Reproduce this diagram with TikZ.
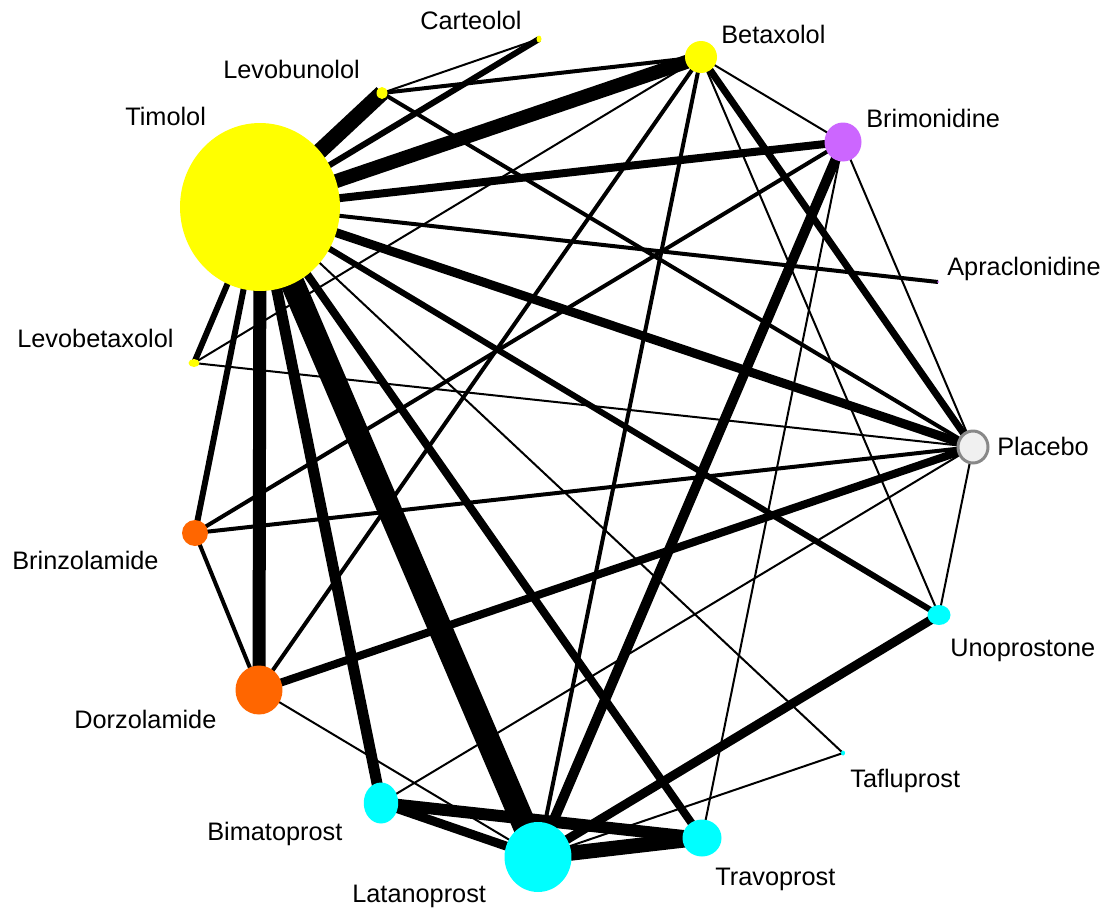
\documentclass[tikz,border=0pt]{standalone}
\usepackage{fontspec}
\setmainfont{Liberation Sans}
\usetikzlibrary{shapes.geometric,backgrounds}
\definecolor{drugYellow}{HTML}{FFFF00}
\definecolor{drugCyan}{HTML}{00FFFF}
\definecolor{drugOrange}{HTML}{FF6600}
\definecolor{drugPurple}{HTML}{CC66FF}
\definecolor{placeboFill}{HTML}{F0F0F0}
\definecolor{placeboRim}{HTML}{888888}

\begin{document}
\begin{tikzpicture}[x=0.02cm, y=-0.02cm, font=\fontsize{14.4}{17}\selectfont,
  drug/.style={ellipse, inner sep=0pt, outer sep=0pt},
  lab/.style={anchor=base west, inner sep=0pt},
  lw/.style={line width=#1*0.02cm}]
\useasboundingbox (0,0) rectangle (1110,910);
% treatments
\node[drug, fill=drugYellow, minimum width=3.2cm, minimum height=3.36cm] (Timolol) at (260,207) {};
\node[drug, fill=drugYellow, minimum width=0.1cm, minimum height=0.14cm] (Carteolol) at (539,39) {};
\node[drug, fill=drugYellow, minimum width=0.22cm, minimum height=0.24cm] (Levobunolol) at (382,93) {};
\node[drug, fill=drugYellow, minimum width=0.64cm, minimum height=0.64cm] (Betaxolol) at (701,57) {};
\node[drug, fill=drugPurple, minimum width=0.74cm, minimum height=0.78cm] (Brimonidine) at (843,142) {};
\node[drug, fill=drugPurple, minimum width=0.04cm, minimum height=0.04cm] (Apraclonidine) at (938,282) {};
\node[drug, fill=drugYellow, minimum width=0.22cm, minimum height=0.16cm] (Levobetaxolol) at (194,363) {};
\node[drug, draw=placeboRim, line width=0.06cm, fill=placeboFill, minimum width=0.6cm, minimum height=0.64cm] (Placebo) at (973,447) {};
\node[drug, fill=drugOrange, minimum width=0.52cm, minimum height=0.52cm] (Brinzolamide) at (195,533) {};
\node[drug, fill=drugCyan, minimum width=0.46cm, minimum height=0.4cm] (Unoprostone) at (939,615) {};
\node[drug, fill=drugOrange, minimum width=0.94cm, minimum height=0.98cm] (Dorzolamide) at (259,690) {};
\node[drug, fill=drugCyan, minimum width=0.08cm, minimum height=0.1cm] (Tafluprost) at (843,753) {};
\node[drug, fill=drugCyan, minimum width=0.69cm, minimum height=0.82cm] (Bimatoprost) at (381,803) {};
\node[drug, fill=drugCyan, minimum width=0.78cm, minimum height=0.74cm] (Travoprost) at (702,838) {};
\node[drug, fill=drugCyan, minimum width=1.34cm, minimum height=1.4cm] (Latanoprost) at (538,857) {};
% labels
\node[lab] (CarteololLab) at (420,29) {Carteolol};
\node[lab] (LevobunololLab) at (223,78) {Levobunolol};
\node[lab] (TimololLab) at (125,125) {Timolol};
\node[lab] (BetaxololLab) at (721,43) {Betaxolol};
\node[lab] (BrimonidineLab) at (866,127) {Brimonidine};
\node[lab] (ApraclonidineLab) at (947,275) {Apraclonidine};
\node[lab] (LevobetaxololLab) at (17,347) {Levobetaxolol};
\node[lab] (PlaceboLab) at (997,455) {Placebo};
\node[lab] (BrinzolamideLab) at (12,569) {Brinzolamide};
\node[lab] (UnoprostoneLab) at (950,656) {Unoprostone};
\node[lab] (DorzolamideLab) at (74,728) {Dorzolamide};
\node[lab] (TafluprostLab) at (850,787) {Tafluprost};
\node[lab] (BimatoprostLab) at (207,840) {Bimatoprost};
\node[lab] (TravoprostLab) at (715,885) {Travoprost};
\node[lab] (LatanoprostLab) at (352,902) {Latanoprost};
% comparisons
\begin{scope}[on background layer]
\draw[lw=16] (Timolol.center) -- (Levobunolol.center);
\draw[lw=6] (Timolol.center) -- (Carteolol.center);
\draw[lw=14] (Timolol.center) -- (Betaxolol.center);
\draw[lw=8] (Timolol.center) -- (Brimonidine.center);
\draw[lw=4] (Timolol.center) -- (Apraclonidine.center);
\draw[lw=9] (Timolol.center) -- (Placebo.center);
\draw[lw=6] (Timolol.center) -- (Unoprostone.center);
\draw[lw=2] (Timolol.center) -- (Tafluprost.center);
\draw[lw=8] (Timolol.center) -- (Travoprost.center);
\draw[lw=24] (Timolol.center) -- (Latanoprost.center);
\draw[lw=11] (Timolol.center) -- (Bimatoprost.center);
\draw[lw=13] (Timolol.center) -- (Dorzolamide.center);
\draw[lw=6] (Timolol.center) -- (Brinzolamide.center);
\draw[lw=6] (Timolol.center) -- (Levobetaxolol.center);
\draw[lw=2] (Levobetaxolol.center) -- (Betaxolol.center);
\draw[lw=2] (Levobetaxolol.center) -- (Placebo.center);
\draw[lw=2] (Levobunolol.center) -- (Carteolol.center);
\draw[lw=4] (Levobunolol.center) -- (Betaxolol.center);
\draw[lw=4] (Levobunolol.center) -- (Placebo.center);
\draw[lw=2] (Betaxolol.center) -- (Brimonidine.center);
\draw[lw=4] (Betaxolol.center) -- (Dorzolamide.center);
\draw[lw=4] (Betaxolol.center) -- (Latanoprost.center);
\draw[lw=2] (Betaxolol.center) -- (Unoprostone.center);
\draw[lw=7] (Betaxolol.center) -- (Placebo.center);
\draw[lw=4] (Brimonidine.center) -- (Brinzolamide.center);
\draw[lw=10] (Brimonidine.center) -- (Latanoprost.center);
\draw[lw=2] (Brimonidine.center) -- (Travoprost.center);
\draw[lw=2] (Brimonidine.center) -- (Placebo.center);
\draw[lw=4] (Placebo.center) -- (Brinzolamide.center);
\draw[lw=8] (Placebo.center) -- (Dorzolamide.center);
\draw[lw=2] (Placebo.center) -- (Bimatoprost.center);
\draw[lw=2] (Placebo.center) -- (Unoprostone.center);
\draw[lw=9] (Unoprostone.center) -- (Latanoprost.center);
\draw[lw=2] (Tafluprost.center) -- (Latanoprost.center);
\draw[lw=15] (Travoprost.center) -- (Latanoprost.center);
\draw[lw=12] (Travoprost.center) -- (Bimatoprost.center);
\draw[lw=9] (Bimatoprost.center) -- (Latanoprost.center);
\draw[lw=2] (Dorzolamide.center) -- (Latanoprost.center);
\draw[lw=4] (Dorzolamide.center) -- (Brinzolamide.center);
\end{scope}
\end{tikzpicture}
\end{document}
